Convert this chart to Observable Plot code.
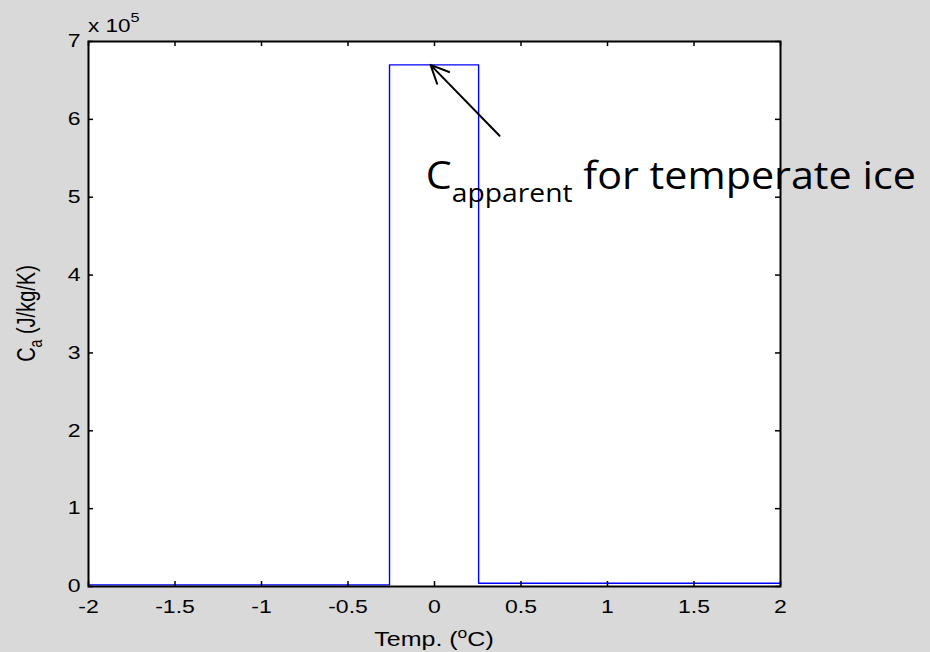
<!DOCTYPE html>
<html><head><meta charset="utf-8">
<script src="https://cdn.jsdelivr.net/npm/d3@7"></script>
<script src="https://cdn.jsdelivr.net/npm/@observablehq/plot@0.6"></script>
<style>body{margin:0;background:#d9d9d9;overflow:hidden;}</style>
</head><body>
<script>
// Step curve of apparent heat capacity vs temperature
const stepTemp = [-2, -0.26, 0.255, 2];
const stepCa = [2100, 670000, 4200, 4200];
// Tick values
const xTicks = [-2, -1.5, -1, -0.5, 0, 0.5, 1, 1.5, 2];
const yTicks = [0, 100000, 200000, 300000, 400000, 500000, 600000, 700000];
// Annotation arrow (tail -> tip) and label anchor
const arrowTemp = [0.376, -0.023];
const arrowCa = [579000, 670000];
const labelTemp = [-0.05];
const labelCa = [510000];

const W = 930, H = 652;
const mL = 88, mR = 150, mT = 41, mB = 66;
const pW = W - mL - mR, pH = H - mT - mB;

const curve = stepTemp.map((t, i) => ({t, c: stepCa[i]}));
const arrowData = [{x1: arrowTemp[0], y1: arrowCa[0], x2: arrowTemp[1], y2: arrowCa[1]}];
const labelData = labelTemp.map((t, i) => ({t, c: labelCa[i]}));

const svg = Plot.plot({
  width: W, height: H,
  marginLeft: mL, marginRight: mR, marginTop: mT, marginBottom: mB,
  x: {domain: [-2, 2]},
  y: {domain: [0, 700000]},
  style: {background: "#d9d9d9", fontFamily: "'Liberation Sans', Arial, sans-serif", fontSize: "18px", color: "black", overflow: "visible"},
  marks: [
    Plot.frame({fill: "white", stroke: null}),
    Plot.line(curve, {x: "t", y: "c", curve: "step-after", stroke: "#0000ff", strokeWidth: 1.4}),
    Plot.ruleX(xTicks, {x: d => d, insetTop: pH - 5, stroke: "black", strokeWidth: 1.5}),
    Plot.ruleX(xTicks, {x: d => d, insetBottom: pH - 5, stroke: "black", strokeWidth: 1.5}),
    Plot.ruleY(yTicks, {y: d => d, insetRight: pW - 5, stroke: "black", strokeWidth: 1.5}),
    Plot.ruleY(yTicks, {y: d => d, insetLeft: pW - 5, stroke: "black", strokeWidth: 1.5}),
    Plot.frame({stroke: "black", strokeWidth: 2}),
    Plot.arrow(arrowData, {x1: "x1", y1: "y1", x2: "x2", y2: "y2", stroke: "black", strokeWidth: 2, headLength: 15, headAngle: 50}),
    Plot.axisX({ticks: xTicks, tickSize: 0, tickPadding: 14, tickFormat: d => String(d), label: null, fontSize: 18}),
    Plot.axisY({ticks: yTicks, tickSize: 0, tickPadding: 8, tickFormat: d => String(d / 100000), label: null, fontSize: 18}),
    Plot.text(labelData, {x: "t", y: "c", text: () => "C", textAnchor: "start", lineAnchor: "bottom",
      fontFamily: "'Open Sans', 'Noto Sans', sans-serif", fontSize: 38, fill: "black"})
  ]
});
document.body.appendChild(svg);

// Horizontal stretch of MATLAB-style tick labels
const sx = 1.28;
svg.querySelectorAll('g[aria-label="x-axis tick label"] text, g[aria-label="y-axis tick label"] text').forEach(t => {
  const tr = t.getAttribute("transform") || "";
  t.setAttribute("transform", tr + ` scale(${sx},1)`);
});

// Annotation with subscript
const ann = Array.from(svg.querySelectorAll("text")).find(t => t.textContent === "C" && !t.closest('g[aria-label$="tick label"]'));
if (ann) {
  ann.textContent = "";
  const ns = "http://www.w3.org/2000/svg";
  const parts = [
    {s: "C", fs: 38, dy: 0},
    {s: "apparent", fs: 26, dy: 12.5},
    {s: " for temperate ice", fs: 38, dy: -12.5}
  ];
  parts.forEach(p => {
    const ts = document.createElementNS(ns, "tspan");
    ts.textContent = p.s;
    ts.setAttribute("font-size", p.fs);
    if (p.dy) ts.setAttribute("dy", p.dy);
    ann.appendChild(ts);
  });
  ann.setAttribute("textLength", 490);
  ann.setAttribute("lengthAdjust", "spacingAndGlyphs");
}

// Axis titles with sub/superscripts
const root = d3.select(svg);
const g = root.append("g").attr("font-family", "'Liberation Sans', Arial, sans-serif").attr("fill", "black");
// x label
const xl = g.append("text").attr("text-anchor", "middle").attr("font-size", 20)
  .attr("transform", `translate(${mL + pW / 2},646) scale(1.25,1)`);
xl.append("tspan").text("Temp. (");
xl.append("tspan").attr("font-size", 14).attr("dy", -8).text("o");
xl.append("tspan").attr("dy", 8).text("C)");
// y label
const yl = g.append("text").attr("text-anchor", "middle").attr("font-size", 20)
  .attr("transform", `translate(35,${mT + pH / 2}) scale(1.3,1) rotate(-90)`);
yl.append("tspan").text("C");
yl.append("tspan").attr("font-size", 14).attr("dy", 5).text("a");
yl.append("tspan").attr("dy", -5).text(" (J/kg/K)");
// exponent
const ex = g.append("text").attr("text-anchor", "start").attr("font-size", 18)
  .attr("transform", `translate(${mL},32) scale(1.25,1)`);
ex.append("tspan").text("x 10");
ex.append("tspan").attr("font-size", 13).attr("dy", -10).text("5");
</script>
</body></html>
